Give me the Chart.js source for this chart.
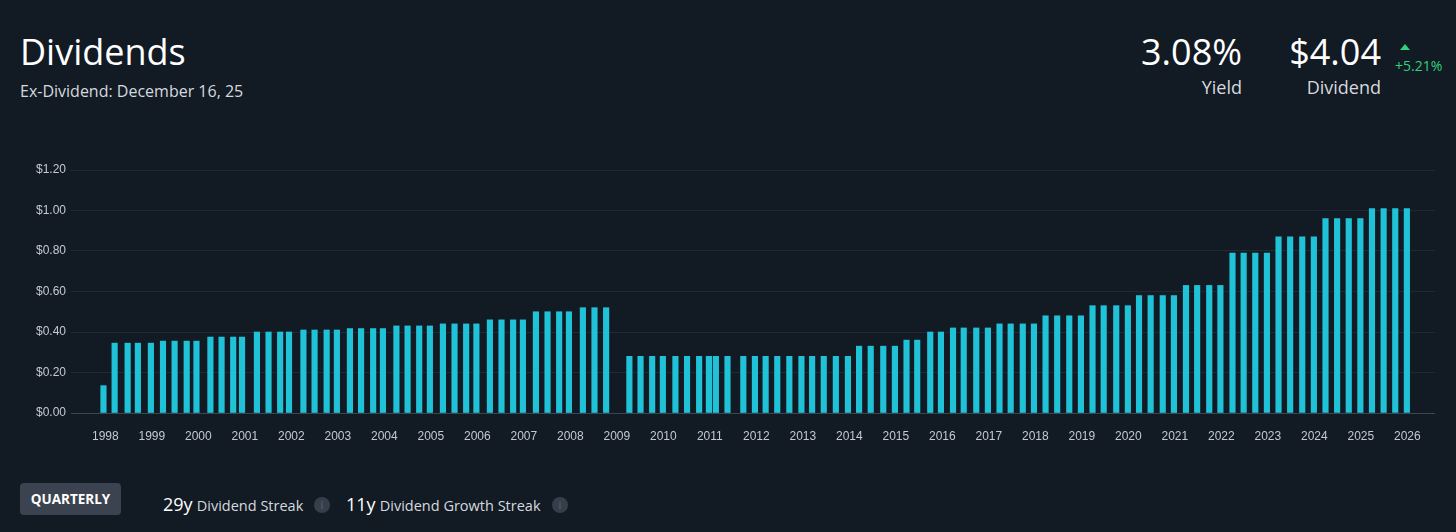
<!DOCTYPE html>
<html>
<head>
<meta charset="utf-8">
<script src="https://cdn.jsdelivr.net/npm/chart.js@4.4.1/dist/chart.umd.min.js"></script>
<style>
  html, body { margin: 0; padding: 0; background: #121a24; }
  body { width: 1456px; height: 532px; position: relative; overflow: hidden; font-family: "Open Sans", sans-serif; color: #fff; }
  .abs { position: absolute; line-height: 1; white-space: nowrap; }
  #title { left: 20px; top: 34px; font-size: 36px; }
  #sub { left: 20px; top: 83px; font-size: 16px; color: #d5d9df; }
  .big { top: 34px; font-size: 36px; text-align: right; }
  .lbl { top: 78px; font-size: 18px; color: #d5d9df; text-align: right; }
  #tri { left: 1400px; top: 44px; width: 0; height: 0; border-left: 5px solid transparent; border-right: 5px solid transparent; border-bottom: 6px solid #2fd27a; }
  #chg { left: 1395px; top: 59px; font-size: 14px; color: #2fd27a; }
  #btn { left: 20px; top: 483px; width: 101px; height: 32px; background: #3b4350; border-radius: 4px; font-size: 13.5px; font-weight: 700; line-height: 32px; text-align: center; color: #fff; }
  .num { font-size: 18px; color: #fff; }
  .txt { font-size: 14.5px; color: #d5d9df; }
  .info { width: 16px; height: 16px; border-radius: 50%; background: #363e4a; color: #4c5562; font-size: 11px; line-height: 16px; text-align: center; font-weight: 700; }
  #wrap { position: absolute; left: 0; top: 140px; width: 1456px; height: 320px; }
</style>
</head>
<body>
<div class="abs" id="title">Dividends</div>
<div class="abs" id="sub">Ex-Dividend: December 16, 25</div>

<div class="abs big" style="right:214px">3.08%</div>
<div class="abs lbl" style="right:214px">Yield</div>
<div class="abs big" style="right:75px">$4.04</div>
<div class="abs lbl" style="right:75px">Dividend</div>
<div class="abs" id="tri"></div>
<div class="abs" id="chg">+5.21%</div>

<div id="wrap"><canvas id="divChart"></canvas></div>

<div class="abs" id="btn">QUARTERLY</div>
<div class="abs" style="left:163px; top:495px;"><span class="num">29y</span> <span class="txt">Dividend Streak</span></div>
<div class="abs info" style="left:314px; top:497px;">i</div>
<div class="abs" style="left:346px; top:495px;"><span class="num">11y</span> <span class="txt">Dividend Growth Streak</span></div>
<div class="abs info" style="left:552px; top:497px;">i</div>

<script>
// ex-dividend dates as decimal years
const exDates = [
  1997.96, 1998.20, 1998.48, 1998.70, 1998.98, 1999.24, 1999.49, 1999.75, 1999.96,
  2000.26, 2000.50, 2000.75, 2000.94, 2001.26, 2001.51, 2001.76, 2001.95,
  2002.26, 2002.50, 2002.76, 2002.98, 2003.26, 2003.50, 2003.76, 2003.97,
  2004.26, 2004.50, 2004.75, 2004.98, 2005.26, 2005.51, 2005.76, 2005.98,
  2006.27, 2006.52, 2006.77, 2006.98, 2007.26, 2007.51, 2007.76, 2007.97,
  2008.27, 2008.52, 2008.77,
  2009.27, 2009.51, 2009.76, 2009.99, 2010.26, 2010.51, 2010.77, 2010.98,
  2011.13, 2011.38, 2011.72, 2011.97, 2012.20, 2012.45, 2012.71, 2012.97,
  2013.20, 2013.45, 2013.71, 2013.97, 2014.21, 2014.46, 2014.73, 2014.98,
  2015.23, 2015.46, 2015.74, 2015.97, 2016.23, 2016.46, 2016.73, 2016.98,
  2017.23, 2017.47, 2017.73, 2017.97, 2018.22, 2018.47, 2018.73, 2018.98,
  2019.23, 2019.47, 2019.74, 2019.99, 2020.23, 2020.48, 2020.74, 2020.98,
  2021.24, 2021.48, 2021.74, 2021.98, 2022.24, 2022.48, 2022.73, 2022.98,
  2023.23, 2023.48, 2023.74, 2023.99, 2024.24, 2024.49, 2024.74, 2024.99,
  2025.24, 2025.49, 2025.74, 2025.99
];

const amounts = [
  0.135, 0.345, 0.345, 0.345, 0.345, 0.355, 0.355, 0.355, 0.355,
  0.375, 0.375, 0.375, 0.375, 0.40, 0.40, 0.40, 0.40,
  0.41, 0.41, 0.41, 0.41, 0.417, 0.417, 0.417, 0.417,
  0.43, 0.43, 0.43, 0.43, 0.44, 0.44, 0.44, 0.44,
  0.46, 0.46, 0.46, 0.46, 0.50, 0.50, 0.50, 0.50,
  0.52, 0.52, 0.52,
  0.28, 0.28, 0.28, 0.28, 0.28, 0.28, 0.28, 0.28,
  0.28, 0.28, 0.28, 0.28, 0.28, 0.28, 0.28, 0.28,
  0.28, 0.28, 0.28, 0.28, 0.33, 0.33, 0.33, 0.33,
  0.36, 0.36, 0.40, 0.40, 0.42, 0.42, 0.42, 0.42,
  0.44, 0.44, 0.44, 0.44, 0.48, 0.48, 0.48, 0.48,
  0.53, 0.53, 0.53, 0.53, 0.58, 0.58, 0.58, 0.58,
  0.63, 0.63, 0.63, 0.63, 0.79, 0.79, 0.79, 0.79,
  0.87, 0.87, 0.87, 0.87, 0.96, 0.96, 0.96, 0.96,
  1.01, 1.01, 1.01, 1.01
];

const yearTicks = [];
for (let y = 1998; y <= 2026; y++) yearTicks.push(y);

const yTicks = [0, 0.2, 0.4, 0.6, 0.8, 1.0, 1.2];

const ctx = document.getElementById('divChart');

new Chart(ctx, {
  type: 'bar',
  data: {
    datasets: [{
      label: 'Dividend',
      data: exDates.map((d, i) => ({ x: d, y: amounts[i] })),
      backgroundColor: '#20c2d8',
      barThickness: 5.5,
      borderWidth: 0
    }]
  },
  options: {
    responsive: true,
    maintainAspectRatio: false,
    animation: false,
    layout: { padding: { left: 0, right: 21, top: 30, bottom: 0 } },
    plugins: { legend: { display: false }, tooltip: { enabled: false } },
    scales: {
      x: {
        type: 'linear',
        min: 1997.262,
        max: 2026.595,
        offset: false,
        grid: { display: false },
        border: { display: false },
        afterBuildTicks: (axis) => { axis.ticks = yearTicks.map(v => ({ value: v })); },
        afterFit: (axis) => { axis.height = 47; },
        ticks: {
          autoSkip: false,
          maxRotation: 0,
          padding: 8,
          color: '#c5c9d0',
          font: { family: '"Liberation Sans", Arial, sans-serif', size: 12 },
          callback: (v) => String(v)
        }
      },
      y: {
        min: 0,
        max: 1.2,
        afterBuildTicks: (axis) => { axis.ticks = yTicks.map(v => ({ value: v })); },
        afterFit: (axis) => { axis.width = 71; },
        border: { display: false },
        grid: {
          drawTicks: false,
          color: (c) => c.tick && c.tick.value === 0 ? '#3c4552' : '#202935',
          lineWidth: 1
        },
        ticks: {
          padding: 5,
          color: '#c5c9d0',
          font: { family: '"Liberation Sans", Arial, sans-serif', size: 12 },
          callback: (v) => '$' + Number(v).toFixed(2)
        }
      }
    }
  }
});
</script>
</body>
</html>
